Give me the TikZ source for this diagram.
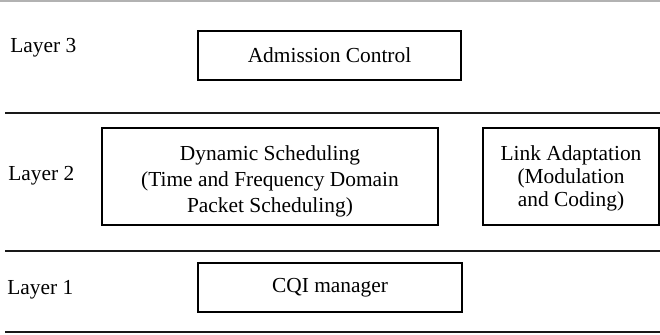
\documentclass[tikz,border=0pt]{standalone}
\usepackage{fontspec}
\setmainfont{Liberation Serif}
\begin{document}
\begin{tikzpicture}[x=0.5pt,y=-0.5pt,
  every node/.style={font=\fontsize{10.7}{13}\selectfont},
  block/.style={draw=black, line width=1pt, rectangle, align=center, inner sep=0pt},
  layerlabel/.style={anchor=west, inner sep=0pt},
  divider/.style={draw=black!90, line width=1.1pt},
  topline/.style={draw=black!30, line width=0.6pt}]
\useasboundingbox (0,0) rectangle (660,334);

% layer separators
\draw[topline] (0,1) -- (660,1);
\draw[divider] (5,113) -- (660,113);
\draw[divider] (5,251) -- (660,251);
\draw[divider] (5,332) -- (660,332);

% layer names
\node[layerlabel] (l3) at (10,48) {Layer 3};
\node[layerlabel] (l2) at (8,176) {Layer 2};
\node[layerlabel] (l1) at (7,290) {Layer 1};

% functional blocks
\node[block, minimum width=131.5pt, minimum height=24.5pt] (adm) at (329.5,55.5) {Admission Control};
\node[block, minimum width=168pt, minimum height=48.5pt] (dyn) at (270,176.5)
  {\rule{0pt}{12.5pt}Dynamic Scheduling\\(Time and Frequency Domain\\Packet Scheduling)};
\node[block, minimum width=88pt, minimum height=48.5pt,
  font=\fontsize{10.7}{11.5}\selectfont] (link) at (571,176.5)
  {\rule{0pt}{9.5pt}Link Adaptation\\(Modulation\\and Coding)};
\node[block, minimum width=132pt, minimum height=24.5pt] (cqi) at (330,287.5) {CQI manager};
\end{tikzpicture}
\end{document}
